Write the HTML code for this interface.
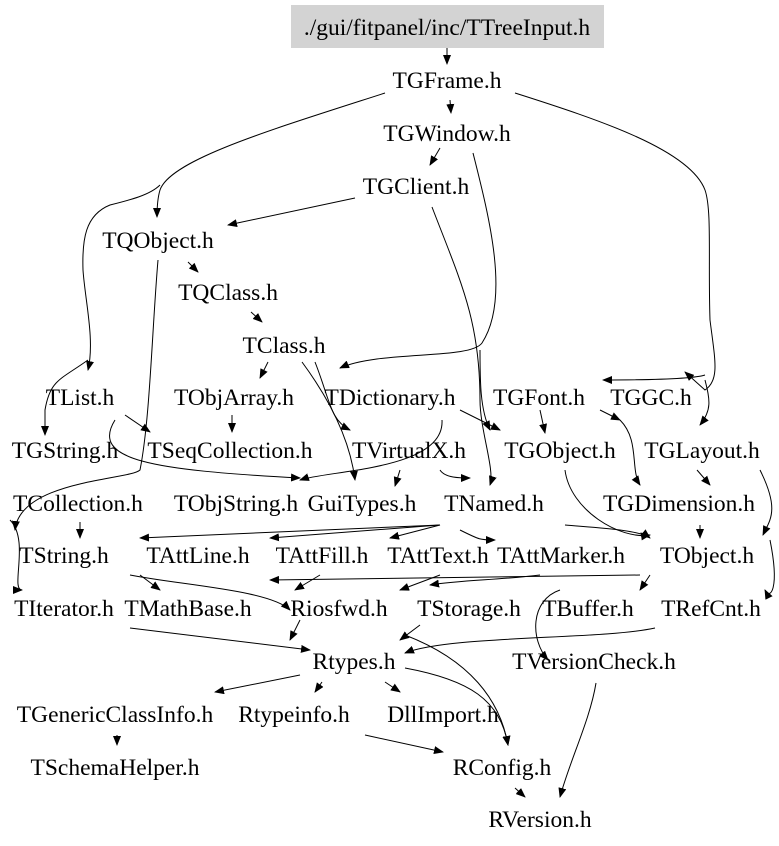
<!DOCTYPE html>
<html><head><meta charset="utf-8"><style>
html,body{margin:0;padding:0;background:#fff;}
svg{display:block;}
text{font-family:"Liberation Serif",serif;font-size:23.5px;fill:#000;text-anchor:middle;}
path{fill:none;stroke:#000;stroke-width:1;}
</style></head><body>
<svg width="779" height="846" viewBox="0 0 779 846" xmlns="http://www.w3.org/2000/svg">
<defs><marker id="a" markerWidth="10" markerHeight="8" refX="9" refY="4" orient="auto" markerUnits="userSpaceOnUse"><polygon points="0,0 10,4 0,8" fill="#000"/></marker></defs>
<rect x="291" y="5" width="313" height="43" fill="#d3d3d3"/>
<g marker-end="url(#a)">
<path d="M447 48 L447 64"/>
<path d="M450 100 L451 113"/>
<path d="M385 93 C270 130 170 160 160 190 C157 200 157 210 157 217"/>
<path d="M160 185 C150 195 130 200 110 205 C85 215 82 240 83 270 C85 300 95 340 88 370"/>
<path d="M88 360 C60 380 50 380 45 410 L45 435"/>
<path d="M515 93 C600 120 690 150 705 190 C712 210 708 260 710 320 C715 360 720 380 705 390 L685 372"/>
<path d="M705 375 C690 380 620 380 603 380"/>
<path d="M705 380 C710 400 712 410 700 425"/>
<path d="M440 148 L430 165"/>
<path d="M473 153 C490 220 510 300 482 343 C470 360 380 350 340 368"/>
<path d="M480 350 C480 380 480 410 490 430"/>
<path d="M355 198 L228 225"/>
<path d="M432 207 C460 280 480 320 480 400 C480 430 495 470 490 485"/>
<path d="M158 260 C152 330 150 420 140 470 C130 480 20 480 15 530"/>
<path d="M188 262 L198 272"/>
<path d="M251 312 L262 322"/>
<path d="M268 362 L260 378"/>
<path d="M302 362 C330 400 350 440 355 480"/>
<path d="M315 362 C330 400 330 420 350 430"/>
<path d="M125 415 L150 432"/>
<path d="M232 415 L232 432"/>
<path d="M115 420 C90 460 150 470 300 478"/>
<path d="M442 420 C445 470 330 470 300 480"/>
<path d="M460 410 L500 430"/>
<path d="M540 410 L545 433"/>
<path d="M600 410 L620 420"/>
<path d="M620 420 C640 440 630 470 640 485"/>
<path d="M697 470 L710 485"/>
<path d="M760 470 C780 510 770 520 763 535"/>
<path d="M770 540 C780 590 770 600 765 590"/>
<path d="M400 470 L395 486"/>
<path d="M440 470 C445 478 460 478 470 478"/>
<path d="M565 470 C570 510 620 540 650 535"/>
<path d="M10 520 C30 540 10 590 22 590"/>
<path d="M80 522 L80 538"/>
<path d="M440 525 L140 538"/>
<path d="M440 525 L270 538"/>
<path d="M440 525 L390 538"/>
<path d="M460 530 C480 540 480 540 495 540"/>
<path d="M565 525 C600 528 640 530 650 538"/>
<path d="M700 525 L700 538"/>
<path d="M130 575 C180 585 270 590 290 610"/>
<path d="M140 575 L160 590"/>
<path d="M320 575 L295 590"/>
<path d="M440 575 L400 590"/>
<path d="M540 575 C500 580 460 580 430 585"/>
<path d="M640 575 L270 580"/>
<path d="M650 575 L640 590"/>
<path d="M300 620 L290 640"/>
<path d="M560 590 C530 600 530 640 548 660"/>
<path d="M130 628 L310 650"/>
<path d="M420 625 L400 640"/>
<path d="M655 628 C600 640 450 635 405 653"/>
<path d="M405 635 C470 660 500 700 508 745"/>
<path d="M405 668 C470 680 500 700 508 745"/>
<path d="M300 675 L215 692"/>
<path d="M322 682 L315 692"/>
<path d="M385 682 L400 692"/>
<path d="M117 735 L117 745"/>
<path d="M365 735 L443 752"/>
<path d="M596 683 C590 720 570 760 560 797"/>
<path d="M515 788 L525 797"/>
</g>
<text x="447" y="35">./gui/fitpanel/inc/TTreeInput.h</text>
<text x="447" y="88">TGFrame.h</text>
<text x="447" y="141">TGWindow.h</text>
<text x="416" y="194">TGClient.h</text>
<text x="158" y="248">TQObject.h</text>
<text x="228" y="300">TQClass.h</text>
<text x="284" y="353">TClass.h</text>
<text x="80" y="405">TList.h</text>
<text x="234" y="405">TObjArray.h</text>
<text x="390" y="405">TDictionary.h</text>
<text x="539" y="405">TGFont.h</text>
<text x="651" y="405">TGGC.h</text>
<text x="65" y="458">TGString.h</text>
<text x="230" y="458">TSeqCollection.h</text>
<text x="409" y="458">TVirtualX.h</text>
<text x="560" y="458">TGObject.h</text>
<text x="702" y="458">TGLayout.h</text>
<text x="78" y="511">TCollection.h</text>
<text x="236" y="511">TObjString.h</text>
<text x="362" y="511">GuiTypes.h</text>
<text x="494" y="511">TNamed.h</text>
<text x="679" y="511">TGDimension.h</text>
<text x="64" y="563">TString.h</text>
<text x="198" y="563">TAttLine.h</text>
<text x="322" y="563">TAttFill.h</text>
<text x="438" y="563">TAttText.h</text>
<text x="561" y="563">TAttMarker.h</text>
<text x="707" y="563">TObject.h</text>
<text x="64" y="616">TIterator.h</text>
<text x="188" y="616">TMathBase.h</text>
<text x="339" y="616">Riosfwd.h</text>
<text x="469" y="616">TStorage.h</text>
<text x="588" y="616">TBuffer.h</text>
<text x="711" y="616">TRefCnt.h</text>
<text x="354" y="669">Rtypes.h</text>
<text x="594" y="669">TVersionCheck.h</text>
<text x="115" y="722">TGenericClassInfo.h</text>
<text x="294" y="722">Rtypeinfo.h</text>
<text x="443" y="722">DllImport.h</text>
<text x="115" y="775">TSchemaHelper.h</text>
<text x="502" y="775">RConfig.h</text>
<text x="540" y="827">RVersion.h</text>
</svg>
</body></html>
